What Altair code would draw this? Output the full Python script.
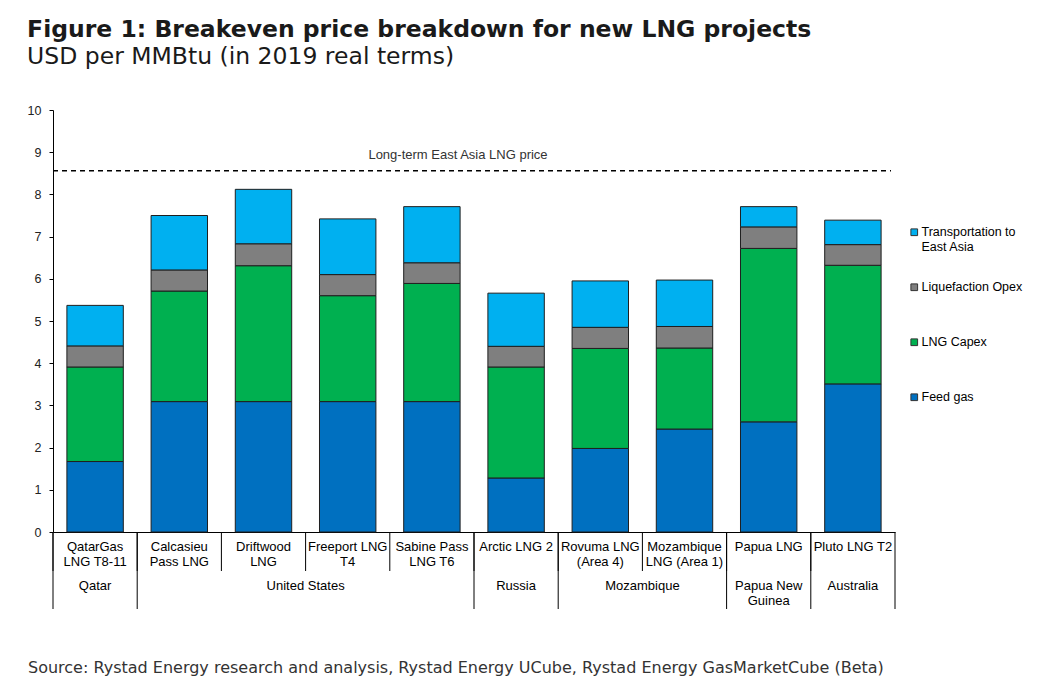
import altair as alt
import pandas as pd

# ---------------- data ----------------
projects = ["QatarGas LNG T8-11", "Calcasieu Pass LNG", "Driftwood LNG", "Freeport LNG T4",
            "Sabine Pass LNG T6", "Arctic LNG 2", "Rovuma LNG (Area 4)",
            "Mozambique LNG (Area 1)", "Papua LNG", "Pluto LNG T2"]
project_labels = ["QatarGas\nLNG T8-11", "Calcasieu\nPass LNG", "Driftwood\nLNG", "Freeport LNG\nT4",
                  "Sabine Pass\nLNG T6", "Arctic LNG 2", "Rovuma LNG\n(Area 4)",
                  "Mozambique\nLNG (Area 1)", "Papua LNG", "Pluto LNG T2"]
countries = ["Qatar", "United States", "United States", "United States", "United States",
             "Russia", "Mozambique", "Mozambique", "Papua New Guinea", "Australia"]
country_display = {"Papua New Guinea": "Papua New\nGuinea"}

series = ["Feed gas", "LNG Capex", "Liquefaction Opex", "Transportation to East Asia"]
feed_gas = [1.67, 3.09, 3.09, 3.09, 3.09, 1.28, 1.98, 2.44, 2.61, 3.51]
lng_capex = [2.24, 2.62, 3.22, 2.51, 2.80, 2.63, 2.37, 1.92, 4.11, 2.81]
liq_opex = [0.50, 0.50, 0.52, 0.50, 0.49, 0.49, 0.50, 0.51, 0.51, 0.49]
transport = [0.96, 1.29, 1.29, 1.32, 1.33, 1.26, 1.10, 1.10, 0.48, 0.58]
series_colors = {"Feed gas": "#0070C0", "LNG Capex": "#00B050",
                 "Liquefaction Opex": "#7F7F7F", "Transportation to East Asia": "#00B0F0"}

lt_price = 8.56
lt_price_label = "Long-term East Asia LNG price"
source_text = ("Source: Rystad Energy research and analysis, Rystad Energy UCube, "
               "Rystad Energy GasMarketCube (Beta)")

# ---------------- tables ----------------
W, H = 842, 422
rows = []
for s_i, (s, vals) in enumerate(zip(series, [feed_gas, lng_capex, liq_opex, transport])):
    for p, v in zip(projects, vals):
        rows.append({"project": p, "component": s, "value": v, "order": s_i})
bars_df = pd.DataFrame(rows)

labels_df = pd.DataFrame({"project": projects, "label": project_labels})

groups = []
for i, c in enumerate(countries):
    if i == 0 or countries[i - 1] != c:
        groups.append([c, i, 1])
    else:
        groups[-1][2] += 1

odd_rows, even_rows, starts = [], [], []
for c, start, n in groups:
    txt = country_display.get(c, c)
    starts.append(projects[start])
    if n % 2 == 1:
        odd_rows.append({"project": projects[start + (n - 1) // 2], "label": txt})
    else:
        even_rows.append({"project": projects[start + n // 2], "label": txt})

legend_order = list(reversed(series))

def X(bp=0.5):
    return alt.X("project:N", sort=projects, title=None, bandPosition=bp,
                 scale=alt.Scale(paddingInner=0, paddingOuter=0))

bars = alt.Chart(bars_df).mark_bar(
    width=alt.RelativeBandSize(0.67), stroke="#1f1f1f", strokeWidth=1
).encode(
    x=X(),
    y=alt.Y("value:Q", stack="zero", title=None,
            scale=alt.Scale(domain=[0, 10], nice=False),
            axis=alt.Axis(values=list(range(11)), grid=False)),
    color=alt.Color("component:N",
                    scale=alt.Scale(domain=legend_order,
                                    range=[series_colors[s] for s in legend_order]),
                    legend=alt.Legend(
                        title=None, orient="none", legendX=855, legendY=116,
                        symbolType="square", symbolSize=45, symbolStrokeColor="#333",
                        symbolStrokeWidth=1, labelFont="Liberation Sans",
                        labelFontSize=12.5, labelColor="#000", rowPadding=27,
                        gridAlign="all", labelOffset=1,
                        labelExpr="datum.label == 'Transportation to East Asia' ? "
                                  "['Transportation to', 'East Asia'] : datum.label")),
    order=alt.Order("order:Q", sort="ascending"),
)

price_df = pd.DataFrame({"price": [lt_price], "label": [lt_price_label]})
price_rule = alt.Chart(price_df).mark_rule(
    color="#000", strokeDash=[5, 4], strokeWidth=1.5
).encode(y=alt.Y("price:Q", title=None), x=alt.value(0), x2=alt.value(W - 4))
price_text = alt.Chart(price_df).mark_text(
    font="Liberation Sans", fontSize=13, color="#333", dy=-16
).encode(y=alt.Y("price:Q", title=None), x=alt.value(405), text="label:N")

proj_text = alt.Chart(labels_df).mark_text(
    font="Liberation Sans", fontSize=13, color="#000", baseline="top",
    lineBreak="\n", lineHeight=15
).encode(x=X(), y=alt.value(H + 9), text="label:N")

country_odd = alt.Chart(pd.DataFrame(odd_rows)).mark_text(
    font="Liberation Sans", fontSize=13, color="#000", baseline="top",
    lineBreak="\n", lineHeight=15
).encode(x=X(0.5), y=alt.value(H + 48), text="label:N")
country_even = alt.Chart(pd.DataFrame(even_rows)).mark_text(
    font="Liberation Sans", fontSize=13, color="#000", baseline="top",
    lineBreak="\n", lineHeight=15
).encode(x=X(0), y=alt.value(H + 48), text="label:N")

short_sep = alt.Chart(labels_df).mark_rule(color="#000", strokeWidth=1).encode(
    x=X(0), y=alt.value(H), y2=alt.value(H + 39))
long_sep = alt.Chart(pd.DataFrame({"project": starts})).mark_rule(color="#000", strokeWidth=1).encode(
    x=X(0), y=alt.value(H), y2=alt.value(H + 77))
end_sep = alt.Chart(pd.DataFrame({"project": [projects[-1]]})).mark_rule(color="#000", strokeWidth=1).encode(
    x=X(1), y=alt.value(H), y2=alt.value(H + 77))

source = alt.Chart(pd.DataFrame({"t": [source_text]})).mark_text(
    font="DejaVu Sans", fontSize=16, color="#333", align="left"
).encode(x=alt.value(-25), y=alt.value(H + 136), text="t:N")

chart = alt.layer(
    bars, price_rule, price_text, proj_text, country_odd, country_even,
    short_sep, long_sep, end_sep, source
).properties(
    width=W, height=H,
    padding={"left": 19, "top": 10, "right": 5, "bottom": 5},
    title=alt.TitleParams(
        text="Figure 1: Breakeven price breakdown for new LNG projects",
        subtitle="USD per MMBtu (in 2019 real terms)",
        anchor="start", font="DejaVu Sans", fontSize=23.5, fontWeight="bold",
        color="#1a1a1a", subtitleFont="DejaVu Sans", subtitleFontSize=23.5,
        subtitleColor="#1a1a1a", subtitlePadding=3, offset=36),
).configure_view(stroke=None).configure_axisX(
    labels=False, ticks=False, domainColor="#000", domainWidth=1
).configure_axisY(
    domainColor="#000", tickColor="#000", tickSize=4, labelFont="Liberation Sans",
    labelFontSize=12.5, labelColor="#222", labelPadding=8
)

chart.save("out.html", embed_options={"renderer": "svg", "actions": False})
